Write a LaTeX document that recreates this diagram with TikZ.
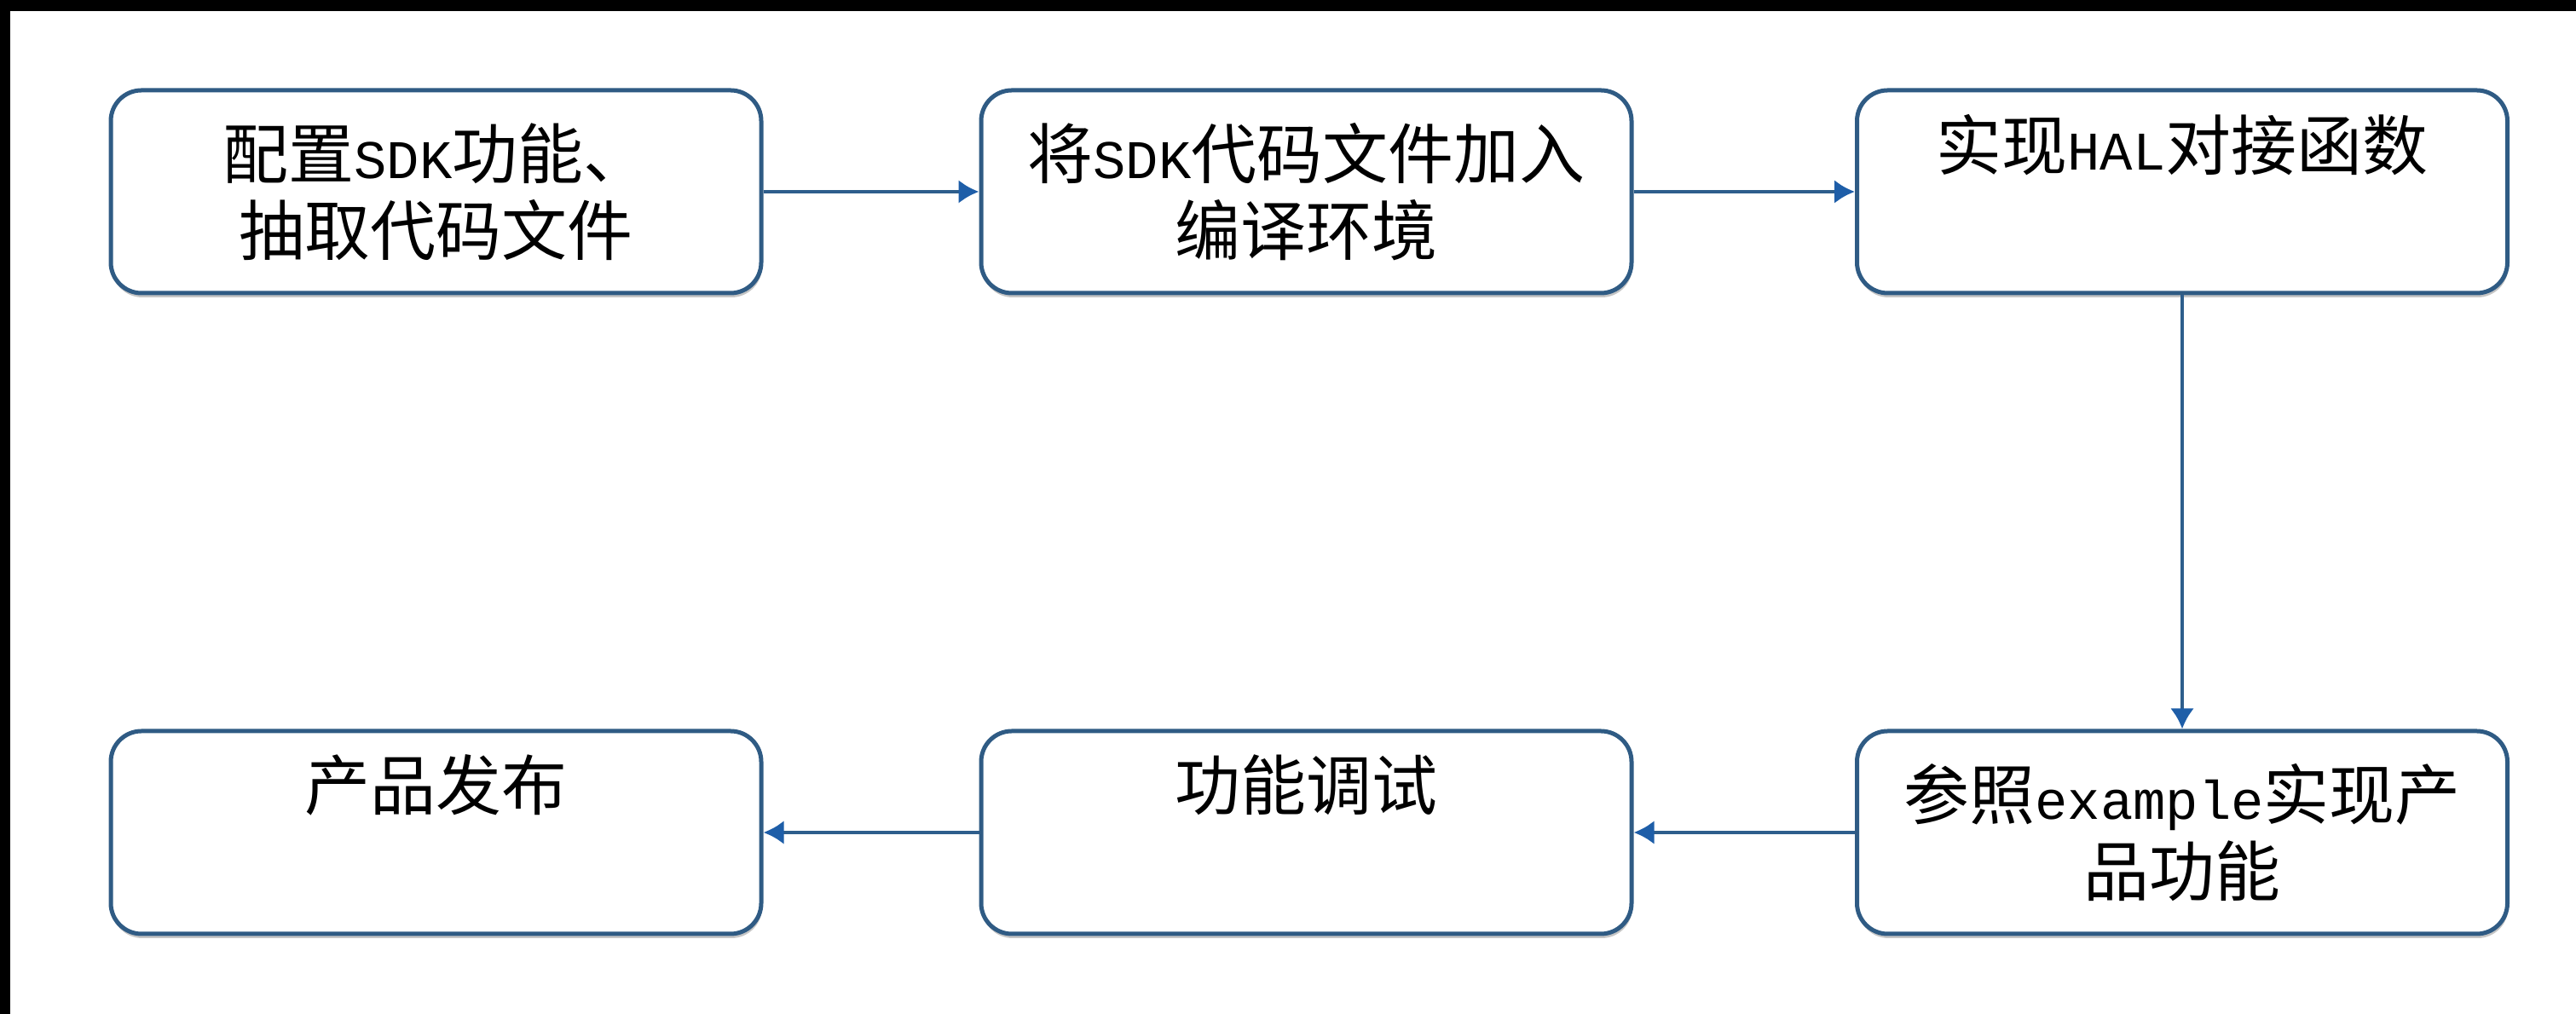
\documentclass[tikz,border=0pt]{standalone}
\usepackage{fontspec}
\setmainfont{Noto Sans CJK SC}
\newfontfamily\latmono[Scale=0.83]{Liberation Mono}
\usetikzlibrary{arrows.meta,shadows}
\definecolor{boxline}{HTML}{2F5B84}
\definecolor{arrline}{HTML}{2E5E8C}
\definecolor{arrhead}{HTML}{1E5EA8}
\tikzset{
  stepbox/.style={draw=boxline, line width=0.05cm, fill=white, rounded corners=0.36cm,
    minimum width=7.63cm, minimum height=2.38cm, inner sep=0pt, align=center,
    font=\fontsize{21.9}{25.6}\selectfont,
    drop shadow={shadow xshift=0.01cm, shadow yshift=-0.05cm, opacity=0.45, fill=gray}},
  flow/.style={draw=arrline, line width=0.045cm,
    -{Latex[length=0.24cm, width=0.28cm, fill=arrhead, color=arrhead]}}
}
\begin{document}
\begin{tikzpicture}
\useasboundingbox (0,0) rectangle (30.22,11.90);
\fill[white] (0,0) rectangle (30.22,11.90);
\fill[black] (0,11.77) rectangle (30.22,11.90);
\fill[black] (0,0) rectangle (0.12,11.90);

\node[stepbox] (b1) at (5.115,9.65) {配置{\latmono SDK}功能、\\抽取代码文件};
\node[stepbox] (b2) at (15.325,9.65) {将{\latmono SDK}代码文件加入\\编译环境};
\node[stepbox] (b3) at (25.60,9.65) {实现{\latmono HAL}对接函数\\\strut};
\node[stepbox] (b4) at (25.60,2.13) {参照{\latmono example}实现产\\品功能};
\node[stepbox] (b5) at (15.325,2.13) {功能调试\\\strut};
\node[stepbox] (b6) at (5.115,2.13) {产品发布\\\strut};

\draw[flow] (b1) -- (b2);
\draw[flow] (b2) -- (b3);
\draw[flow] (b3) -- (b4);
\draw[flow] (b4) -- (b5);
\draw[flow] (b5) -- (b6);
\end{tikzpicture}
\end{document}
